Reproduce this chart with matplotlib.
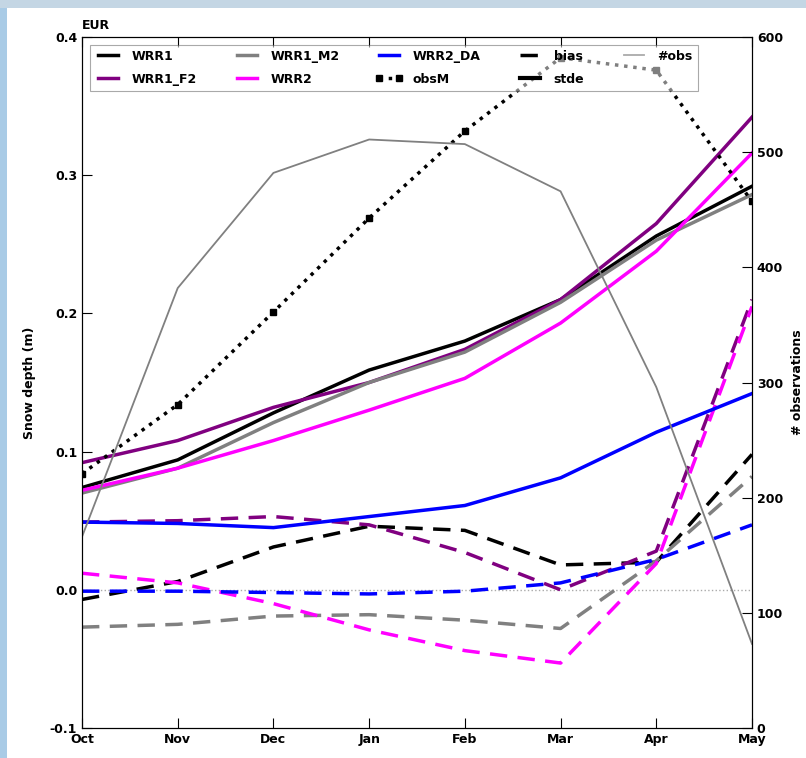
import numpy as np
import matplotlib.pyplot as plt
from matplotlib.lines import Line2D
from matplotlib.patches import Rectangle

plt.rcParams['font.family'] = ['DejaVu Sans']
plt.rcParams['font.weight'] = 'bold'
plt.rcParams['axes.labelweight'] = 'bold'
plt.rcParams['font.size'] = 9

# 月份
months = ['Oct', 'Nov', 'Dec', 'Jan', 'Feb', 'Mar', 'Apr', 'May']

# stde (solid)
wrr1_stde = [0.074, 0.094, 0.128, 0.159, 0.180, 0.210, 0.256, 0.292]
wrr1_f2_stde = [0.092, 0.108, 0.132, 0.150, 0.174, 0.210, 0.265, 0.342]
wrr1_m2_stde = [0.070, 0.088, 0.121, 0.150, 0.172, 0.208, 0.253, 0.286]
wrr2_stde = [0.072, 0.088, 0.108, 0.130, 0.153, 0.193, 0.245, 0.316]
wrr2_da_stde = [0.049, 0.048, 0.045, 0.053, 0.061, 0.081, 0.114, 0.142]

# bias (dashed)
wrr1_bias = [-0.007, 0.006, 0.031, 0.046, 0.043, 0.018, 0.020, 0.098]
wrr1_f2_bias = [0.049, 0.050, 0.053, 0.047, 0.027, 0.000, 0.028, 0.210]
wrr1_m2_bias = [-0.027, -0.025, -0.019, -0.018, -0.022, -0.028, 0.021, 0.082]
wrr2_bias = [0.012, 0.005, -0.010, -0.029, -0.044, -0.053, 0.019, 0.205]
wrr2_da_bias = [-0.001, -0.001, -0.002, -0.003, -0.001, 0.005, 0.022, 0.047]

# observed mean and number of obs
obsM = [0.084, 0.134, 0.201, 0.269, 0.332, 0.385, 0.376, 0.281]
nobs = [166, 382, 482, 511, 507, 466, 296, 73]

names = ['WRR1', 'WRR1_F2', 'WRR1_M2', 'WRR2', 'WRR2_DA']
colors = ['black', '#800080', '#808080', '#ff00ff', '#0000ff']
stde = [wrr1_stde, wrr1_f2_stde, wrr1_m2_stde, wrr2_stde, wrr2_da_stde]
bias = [wrr1_bias, wrr1_f2_bias, wrr1_m2_bias, wrr2_bias, wrr2_da_bias]

x = np.arange(len(months))

fig = plt.figure(figsize=(8.06, 7.58), dpi=100, facecolor='white')
# 背景的蓝色边
fig.patches.append(Rectangle((0, 0), 7 / 806, 1, transform=fig.transFigure,
                             facecolor='#a9cbe6', edgecolor='none', zorder=-1))
fig.patches.append(Rectangle((0, 1 - 8 / 758), 1, 8 / 758, transform=fig.transFigure,
                             facecolor='#c4d6e4', edgecolor='none', zorder=-1))
ax = fig.add_axes([82 / 806, 30 / 758, 670 / 806, 691 / 758])
ax2 = ax.twinx()

ax.axhline(0, color='#aaaaaa', ls=':', lw=1)
for n, c, s, b in zip(names, colors, stde, bias):
    ax.plot(x, s, color=c, lw=2.5)
    ax.plot(x, b, color=c, lw=2.5, dashes=(5, 3))
ax.plot(x, obsM, color='black', lw=2.5, ls=':', marker='s', ms=5)

ax2.plot(x, nobs, color='#808080', lw=1.3)

ax.set_xlim(0, 7)
ax.set_ylim(-0.1, 0.4)
ax.set_xticks(x)
ax.set_xticklabels(months)
ax.set_yticks([-0.1, 0.0, 0.1, 0.2, 0.3, 0.4])
ax.yaxis.set_major_formatter(plt.FormatStrFormatter('%.1f'))
ax2.set_ylim(0, 600)
ax2.set_yticks(range(0, 700, 100))
ax.tick_params(direction='in', length=7, top=True)
ax2.tick_params(direction='in', length=7)
ax.set_ylabel('Snow depth (m)', labelpad=10)
ax2.set_ylabel('# observations', labelpad=6)
ax.set_title('EUR', loc='left', fontsize=9, fontweight='bold', pad=6)

handles = []
for n, c in zip(names, colors):
    handles.append(Line2D([], [], color=c, lw=2.5, label=n))
handles.append(Line2D([], [], color='black', lw=2.5, ls=':', marker='s', ms=5, label='obsM'))
handles.append(Line2D([], [], color='black', lw=2.5, dashes=(5, 3), label='bias'))
handles.append(Line2D([], [], color='black', lw=3, label='stde'))
handles.append(Line2D([], [], color='#aaaaaa', lw=1.3, label='#obs'))
leg = ax2.legend(handles=handles, ncol=5, loc='upper left', numpoints=2, fontsize=9,
                 framealpha=0.5, fancybox=False, edgecolor='#555555',
                 handlelength=2.2, columnspacing=2.85, labelspacing=0.8,
                 borderaxespad=0.6)
leg.get_frame().set_linewidth(0.8)

fig.savefig('out.png', dpi=100, facecolor=fig.get_facecolor())
